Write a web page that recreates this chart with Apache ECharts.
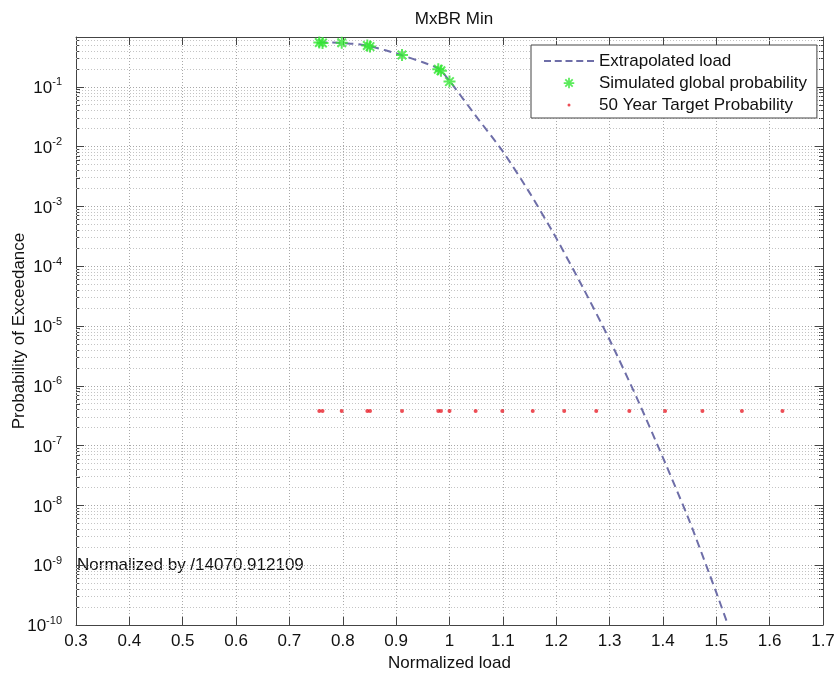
<!DOCTYPE html>
<html>
<head>
<meta charset="utf-8">
<title>MxBR Min</title>
<script src="https://cdn.jsdelivr.net/npm/echarts@6.0.0/dist/echarts.min.js"></script>
<style>
  html, body { margin: 0; padding: 0; background: #fff; }
  #chart { width: 836px; height: 675px; }
</style>
</head>
<body>
<div id="chart"></div>
<script>
// axis ranges
const loadMin = 0.3;
const loadMax = 1.7;
const loadStep = 0.1;
const probMin = 1e-10;
const probMax = 0.68;

// y tick labels are the decades 10^-10 .. 10^-1
const decades = [-10, -9, -8, -7, -6, -5, -4, -3, -2, -1];
const minorSteps = [2, 3, 4, 5, 6, 7, 8, 9];

// Extrapolated load (dashed curve)
const curveLoad = [0.756, 0.78, 0.80, 0.83, 0.85, 0.88, 0.91, 0.95, 0.98, 1.00, 1.05, 1.10,
  1.15, 1.20, 1.25, 1.30, 1.35, 1.40, 1.45, 1.50, 1.522];
const curveProb = [0.55, 0.55, 0.537, 0.513, 0.479, 0.407, 0.339, 0.257, 0.200, 0.126, 3.2e-2, 8.3e-3,
  1.7e-3, 2.95e-4, 4.4e-5, 5.9e-6, 6.6e-7, 6.3e-8, 5.4e-9, 3.5e-10, 1.0e-10];

// Simulated global probability (green stars)
const simLoad = [0.756, 0.762, 0.798, 0.846, 0.851, 0.911, 0.979, 0.984, 1.000];
const simProb = [0.55, 0.54, 0.545, 0.49, 0.47, 0.34, 0.197, 0.185, 0.122];

// 50 Year Target Probability (red dots)
const targetLoad = [0.756, 0.762, 0.798, 0.846, 0.851, 0.911, 0.979, 0.984, 1.000, 1.049,
  1.099, 1.156, 1.215, 1.275, 1.337, 1.404, 1.474, 1.548, 1.624];
const targetProb = [3.8e-7, 3.8e-7, 3.8e-7, 3.8e-7, 3.8e-7, 3.8e-7, 3.8e-7, 3.8e-7, 3.8e-7, 3.8e-7,
  3.8e-7, 3.8e-7, 3.8e-7, 3.8e-7, 3.8e-7, 3.8e-7, 3.8e-7, 3.8e-7, 3.8e-7];

const FONT = '"Liberation Sans", Arial, sans-serif';
const lg = Math.log10;
const yTop = lg(probMax);

// minor log grid positions (2..9 in every decade)
const minorLogs = [];
decades.forEach(d => {
  minorSteps.forEach(k => {
    const v = d + lg(k);
    if (v < yTop) minorLogs.push(v);
  });
});

const toPoints = (xs, ps) => xs.map((x, i) => [x, lg(ps[i])]);

// matlab-like '*' marker
const star = 'M-1,-6L1,-6L1,6L-1,6Z M-6,-1L6,-1L6,1L-6,1Z ' +
  'M-3.54,-4.95L4.95,3.54L3.54,4.95L-4.95,-3.54Z M-4.95,3.54L3.54,-4.95L4.95,-3.54L-3.54,4.95Z';
const pad = 'M-8,-8L-8,-8M8,8L8,8 ';
const dot = 'M-7,-7L-7,-7M7,7L7,7 M-1.5,0a1.5,1.5 0 1,0 3,0a1.5,1.5 0 1,0 -3,0Z';
// legend icon for the dashed line, 50 x 14 box
const dashIcon = 'M0,0L0,0M50,14L50,14 M0,6L7,6L7,8L0,8Z M10.75,6L17.75,6L17.75,8L10.75,8Z ' +
  'M21.5,6L28.5,6L28.5,8L21.5,8Z M32.25,6L39.25,6L39.25,8L32.25,8Z M43,6L50,6L50,8L43,8Z';

const chart = echarts.init(document.getElementById('chart'));

const axisLine = { show: true, lineStyle: { color: '#444', width: 1 } };
const majorTick = { show: true, inside: true, length: 8, lineStyle: { color: '#444' } };
const minorTick = { show: true, inside: true, length: 4, customValues: minorLogs, lineStyle: { color: '#444' } };
const dotted = { color: '#a8a8a8', type: [1, 2], width: 1 };

const option = {
  animation: false,
  textStyle: { fontFamily: FONT },
  title: {
    text: 'MxBR Min',
    left: 449,
    top: 6,
    textAlign: 'center',
    textStyle: { fontFamily: FONT, fontSize: 17, fontWeight: 'normal', color: '#111' }
  },
  legend: {
    orient: 'vertical',
    left: 531,
    top: 45,
    padding: [6, 10, 3, 13],
    itemWidth: 50,
    itemHeight: 14,
    itemGap: 2,
    selectedMode: false,
    backgroundColor: '#fff',
    borderColor: '#444',
    borderWidth: 1,
    borderRadius: 0,
    textStyle: { fontFamily: FONT, fontSize: 17, color: '#111', lineHeight: 20 },
    data: [
      { name: 'Extrapolated load', icon: 'path://' + dashIcon },
      { name: 'Simulated global probability', icon: 'path://' + pad + star },
      { name: '50 Year Target Probability', icon: 'path://' + dot }
    ]
  },
  grid: { left: 76, right: 13, top: 37, bottom: 50, outerBoundsMode: 'none', containLabel: false },
  xAxis: [
    {
      type: 'value',
      position: 'bottom',
      min: loadMin,
      max: loadMax,
      interval: loadStep,
      name: 'Normalized load',
      nameLocation: 'middle',
      nameGap: 28,
      nameTextStyle: { fontFamily: FONT, fontSize: 17, color: '#111' },
      axisLine: axisLine,
      axisTick: majorTick,
      axisLabel: { margin: 8, fontSize: 17, color: '#111', fontFamily: FONT },
      splitLine: { show: true, lineStyle: dotted }
    },
    {
      type: 'value',
      position: 'top',
      min: loadMin,
      max: loadMax,
      interval: loadStep,
      axisLine: axisLine,
      axisTick: majorTick,
      axisLabel: { show: false },
      splitLine: { show: false }
    }
  ],
  yAxis: [
    {
      type: 'value',
      position: 'left',
      min: lg(probMin),
      max: yTop,
      interval: 1,
      name: 'Probability of Exceedance',
      nameLocation: 'middle',
      nameGap: 48,
      nameMoveOverlap: false,
      nameTextStyle: { fontFamily: FONT, fontSize: 17, color: '#111' },
      axisLine: axisLine,
      axisTick: majorTick,
      axisLabel: {
        margin: 14,
        color: '#111',
        formatter: function (v) {
          if (Math.abs(v - Math.round(v)) > 1e-6) return '';
          return '{b|10}{s|' + Math.round(v) + '}';
        },
        rich: {
          b: { fontFamily: FONT, fontSize: 17, color: '#111', lineHeight: 20, verticalAlign: 'bottom' },
          s: { fontFamily: FONT, fontSize: 11, color: '#111', lineHeight: 20, verticalAlign: 'top' }
        }
      },
      splitLine: { show: true, lineStyle: dotted }
    },
    {
      type: 'value',
      position: 'right',
      min: lg(probMin),
      max: yTop,
      interval: 1,
      axisLine: axisLine,
      axisTick: majorTick,
      axisLabel: { show: false },
      splitLine: { show: false }
    },
    {
      type: 'value',
      position: 'left',
      min: lg(probMin),
      max: yTop,
      axisLine: { show: false },
      axisTick: minorTick,
      axisLabel: { show: false },
      splitLine: { show: false }
    },
    {
      type: 'value',
      position: 'right',
      min: lg(probMin),
      max: yTop,
      axisLine: { show: false },
      axisTick: minorTick,
      axisLabel: { show: false },
      splitLine: { show: false }
    }
  ],
  graphic: [
    {
      type: 'text',
      left: 77,
      top: 557,
      style: { text: 'Normalized by /14070.912109', fontFamily: FONT, fontSize: 17, fill: '#111' }
    }
  ],
  series: [
    {
      name: 'minor grid',
      type: 'line',
      data: [],
      silent: true,
      markLine: {
        silent: true,
        z: 1,
        symbol: 'none',
        label: { show: false },
        lineStyle: { color: '#c4c4c4', type: [1, 2], width: 1 },
        data: minorLogs.map(v => ({ yAxis: v }))
      }
    },
    {
      name: 'Extrapolated load',
      type: 'line',
      z: 3,
      symbol: 'none',
      smooth: 0.2,
      data: toPoints(curveLoad, curveProb),
      lineStyle: { color: '#6e6ea8', width: 2, type: [8, 5] },
      itemStyle: { color: '#6e6ea8' }
    },
    {
      name: 'Simulated global probability',
      type: 'scatter',
      z: 4,
      symbol: 'path://' + star,
      symbolSize: 12,
      data: toPoints(simLoad, simProb),
      itemStyle: { color: '#33e633' }
    },
    {
      name: '50 Year Target Probability',
      type: 'scatter',
      z: 5,
      symbol: 'circle',
      symbolSize: 4,
      data: toPoints(targetLoad, targetProb),
      itemStyle: { color: '#e8202a' }
    }
  ]
};

chart.setOption(option);
</script>
</body>
</html>
